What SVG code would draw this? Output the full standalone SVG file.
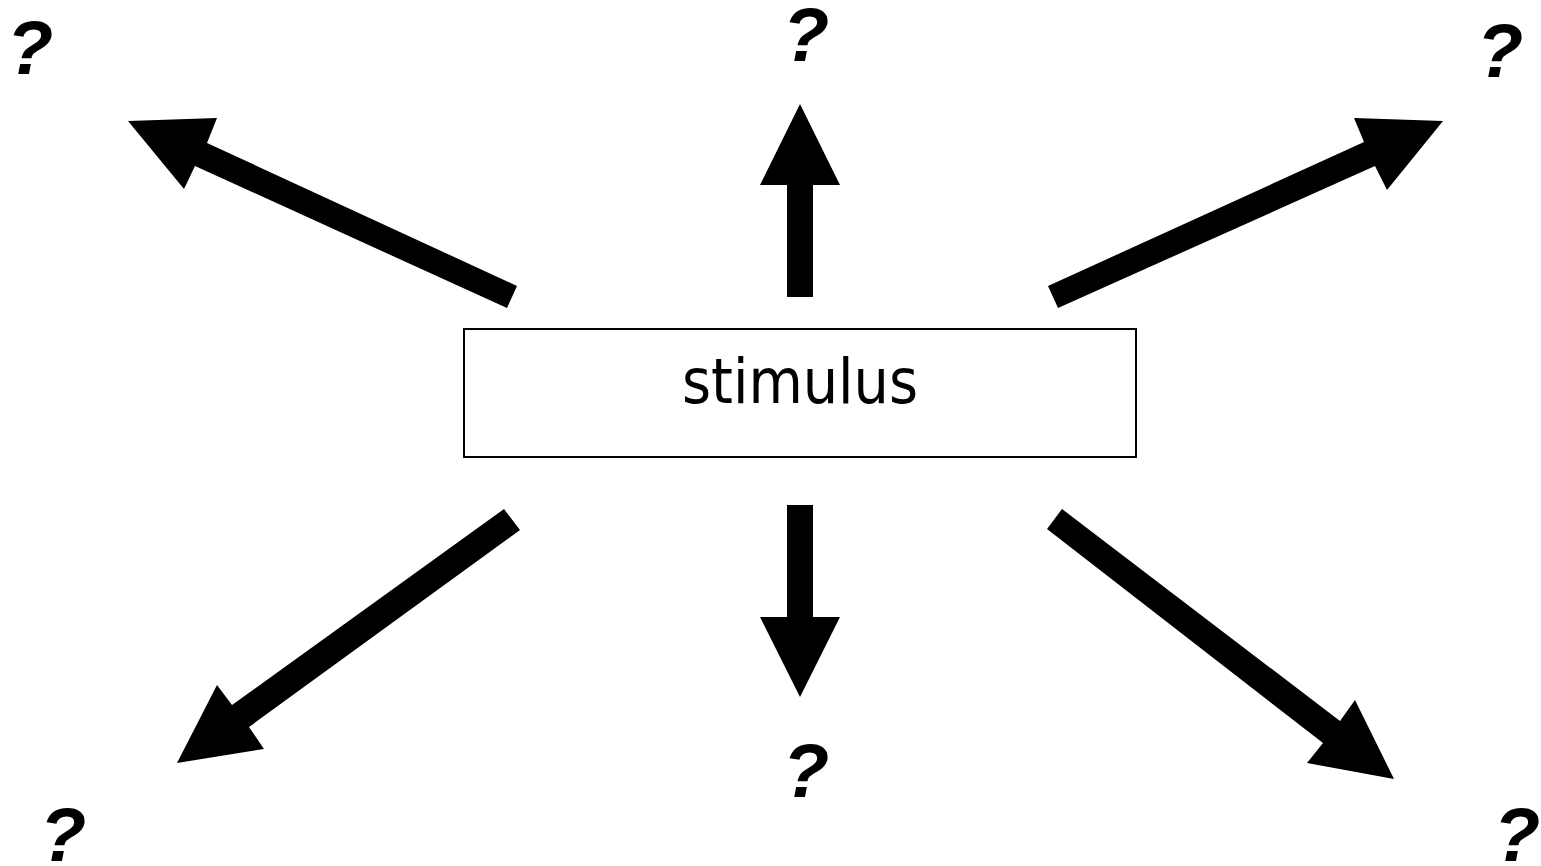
<svg xmlns="http://www.w3.org/2000/svg" width="1541" height="866" viewBox="0 0 1541 866">
<style>
.q{font-family:"Liberation Sans",Arial,sans-serif;font-weight:bold;font-style:italic;font-size:76px;fill:#000}
.arrow{fill:#000;stroke:none}
.box{fill:#fff;stroke:#000;stroke-width:2}
.lbl{font-family:"DejaVu Sans Condensed","DejaVu Sans",sans-serif;font-size:62px;fill:#000}
</style>
<rect width="1541" height="866" fill="#fff"/>
<g id="connectors">
<polygon class="arrow" points="787,297 787,185 760,185 800,104 840,185 813,185 813,297"/>
<polygon class="arrow" points="787,505 787,617 760,617 800,697 840,617 813,617 813,505"/>
<polygon class="arrow" points="517,286 207,143 217,118 128,121 184,189 195,166 507,308"/>
<polygon class="arrow" points="1048,286 1364,142 1354,118 1443,121 1387,190 1375,166 1058,308"/>
<polygon class="arrow" points="504,509 232,705 217,685 177,763 264,749 249,727 520,530"/>
<polygon class="arrow" points="1062,509 1340,721 1355,700 1394,779 1307,763 1323,743 1047,529"/>
</g>
<g id="stimulus">
<rect class="box" x="464" y="329" width="672" height="128"/>
<text class="lbl" x="800" y="403" text-anchor="middle">stimulus</text>
</g>
<g id="q-top-left"><text class="q" x="30" y="74" text-anchor="middle">?</text></g>
<g id="q-top"><text class="q" x="806" y="61" text-anchor="middle">?</text></g>
<g id="q-top-right"><text class="q" x="1500" y="77" text-anchor="middle">?</text></g>
<g id="q-bottom"><text class="q" x="806" y="797" text-anchor="middle">?</text></g>
<g id="q-bottom-left"><text class="q" x="63" y="861" text-anchor="middle">?</text></g>
<g id="q-bottom-right"><text class="q" x="1517" y="861" text-anchor="middle">?</text></g>
</svg>
